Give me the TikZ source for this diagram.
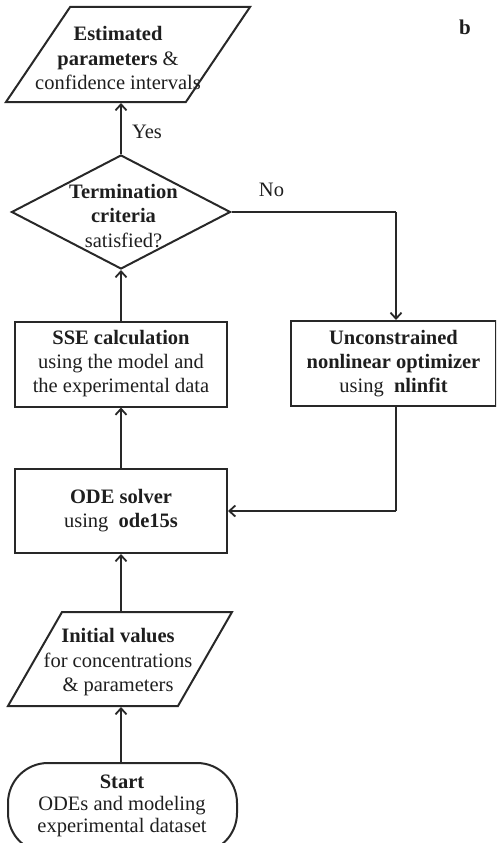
\documentclass[tikz,border=0pt]{standalone}
\usepackage{fontspec}
\setmainfont{Liberation Serif}
\usetikzlibrary{shapes.geometric,arrows.meta}
\definecolor{ln}{RGB}{40,40,40}
\definecolor{tx}{RGB}{30,30,30}
\begin{document}
\begin{tikzpicture}[x=1pt,y=-1pt,
  every node/.style={text=tx},
  txt/.style={align=center,inner sep=0pt,font=\fontsize{20.5}{24.5}\selectfont},
  boxn/.style={draw=ln,line width=2pt,rectangle,minimum width=212,minimum height=85,inner sep=0pt,align=center,font=\fontsize{20.5}{24}\selectfont},
  paran/.style={draw=ln,line width=2pt,trapezium,trapezium stretches=true,inner sep=1pt},
  decn/.style={draw=ln,line width=2pt,diamond,inner sep=1pt,minimum width=219,minimum height=114},
  conn/.style={draw=ln,line width=2pt,-{Straight Barb[length=6pt,width=11pt,line width=1.8pt]}},
  plain/.style={draw=ln,line width=2pt},
  lbl/.style={font=\fontsize{20.5}{24}\selectfont,inner sep=0pt}]
\useasboundingbox (0,0) rectangle (496,843);
\clip (0,0) rectangle (496,843);
% shapes
\node[paran,trapezium left angle=61,trapezium right angle=119,minimum width=244,minimum height=95] (est) at (128,54.5) {};
\node[txt] (estT) at (118,58) {\textbf{Estimated}\\\textbf{parameters} \&\\confidence intervals};
\node[decn] (dec) at (121,212) {};
\node[txt] (decT) at (123.5,216) {\textbf{Termination}\\\textbf{criteria}\\satisfied?};
\node[boxn] (sse) at (121,364) {\textbf{SSE calculation}\\using the model and\\the experimental data};
\node[boxn,minimum width=205] (unc) at (393.5,363.5) {\textbf{Unconstrained}\\\textbf{nonlinear optimizer}\\using \ \textbf{nlinfit}};
\node[boxn,minimum height=84] (ode) at (121,511) {\textbf{ODE solver}\\using \ \textbf{ode15s}};
\node[paran,trapezium left angle=65,trapezium right angle=115,minimum width=224,minimum height=94] (ini) at (120,659) {};
\node[txt] (iniT) at (118,662.5) {\textbf{Initial values}\\for concentrations\\\& parameters};
\node[draw=ln,line width=2pt,rectangle,rounded corners=40pt,minimum width=229,minimum height=90,inner sep=0pt] (start) at (122.5,808) {};
\node[txt,font=\fontsize{20.5}{22}\selectfont] (startT) at (122,806) {\textbf{Start}\\ODEs and modeling\\experimental dataset};
% labels
\node[lbl] (yes) at (147,132) {Yes};
\node[lbl] (no) at (271.5,190) {No};
\node[lbl,font=\fontsize{21}{24}\selectfont\bfseries] (b) at (465,27) {b};
% connectors
\coordinate (nc) at (396,212);
\coordinate (fb) at (396,511);
\draw[conn] (start.north -| sse.center) -- (ini.south -| sse.center);
\draw[conn] (ini.north -| sse.center) -- (ode.south);
\draw[conn] (ode.north) -- (sse.south);
\draw[conn] (sse.north) -- (sse.north |- dec.south);
\draw[conn] (dec.north) -- (dec.north |- est.south);
\draw[plain] (dec.east) -- (nc);
\draw[conn] (nc) -- (nc |- unc.north);
\draw[plain] (nc |- unc.south) -- (fb);
\draw[conn] (fb) -- (ode.east);
\end{tikzpicture}
\end{document}
